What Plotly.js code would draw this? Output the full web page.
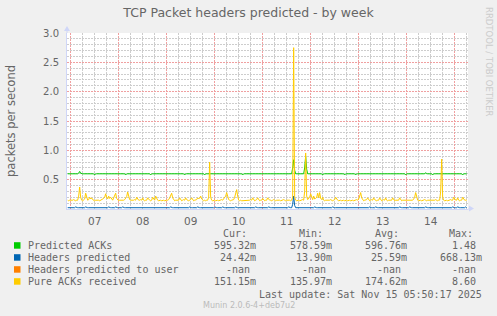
<!DOCTYPE html>
<html>
<head>
<meta charset="utf-8">
<script src="https://cdn.plot.ly/plotly-3.0.1.min.js"></script>
<style>
html,body{margin:0;padding:0;background:#F0F0F0;}
#chart{width:497px;height:316px;}
</style>
</head>
<body>
<div id="chart"></div>
<script>
// ---- Data (30-minute samples starting 2025-11-06 22:30) ----
const sampleStart = "2025-11-06T22:30:00Z";
const sampleStepMinutes = 30;

const predictedAcks = [
0.6,0.6,0.6,0.59,0.6,0.6,0.6,0.6,0.6,0.6,0.6,0.61,0.64,0.61,0.6,0.6,0.6,0.6,0.61,0.6,
0.6,0.6,0.6,0.6,0.6,0.6,0.6,0.58,0.6,0.6,0.6,0.6,0.6,0.6,0.6,0.6,0.6,0.6,0.6,0.6,
0.6,0.6,0.6,0.6,0.6,0.6,0.6,0.6,0.61,0.6,0.6,0.6,0.6,0.6,0.6,0.6,0.6,0.6,0.58,0.6,
0.6,0.6,0.6,0.6,0.6,0.6,0.6,0.6,0.6,0.6,0.6,0.6,0.6,0.6,0.6,0.6,0.6,0.6,0.6,0.6,
0.6,0.6,0.6,0.58,0.6,0.6,0.6,0.6,0.6,0.6,0.6,0.6,0.6,0.6,0.6,0.6,0.6,0.6,0.6,0.6,
0.6,0.6,0.6,0.61,0.6,0.6,0.6,0.6,0.6,0.6,0.6,0.6,0.6,0.6,0.6,0.6,0.6,0.58,0.6,0.6,
0.6,0.6,0.61,0.6,0.6,0.6,0.6,0.6,0.6,0.6,0.6,0.6,0.6,0.6,0.6,0.6,0.6,0.58,0.6,0.6,
0.6,0.6,0.6,0.6,0.6,0.6,0.6,0.6,0.61,0.6,0.6,0.6,0.6,0.6,0.6,0.6,0.6,0.6,0.6,0.6,
0.6,0.6,0.6,0.6,0.6,0.6,0.6,0.6,0.6,0.61,0.6,0.6,0.6,0.6,0.6,0.58,0.6,0.6,0.6,0.6,
0.6,0.6,0.6,0.6,0.6,0.6,0.6,0.6,0.6,0.6,0.61,0.6,0.6,0.6,0.6,0.6,0.6,0.6,0.6,0.6,
0.6,0.6,0.6,0.6,0.6,0.61,0.6,0.6,0.6,0.6,0.61,0.6,0.6,0.6,0.6,0.61,0.6,0.6,0.6,0.6,
0.61,0.6,0.6,0.6,0.6,0.7,0.84,0.66,0.6,0.6,0.6,0.6,0.6,0.6,0.6,0.6,0.6,0.7,0.9,0.68,
0.6,0.6,0.6,0.6,0.6,0.6,0.6,0.6,0.6,0.6,0.6,0.6,0.6,0.6,0.6,0.58,0.6,0.6,0.6,0.6,
0.6,0.6,0.6,0.6,0.6,0.6,0.6,0.6,0.6,0.6,0.6,0.6,0.6,0.6,0.6,0.6,0.6,0.58,0.6,0.6,
0.6,0.6,0.6,0.6,0.6,0.6,0.6,0.6,0.58,0.6,0.6,0.6,0.6,0.6,0.6,0.6,0.6,0.6,0.6,0.6,
0.6,0.6,0.6,0.6,0.6,0.6,0.6,0.6,0.6,0.6,0.6,0.6,0.6,0.6,0.6,0.6,0.6,0.6,0.6,0.6,
0.6,0.6,0.6,0.6,0.6,0.61,0.6,0.6,0.6,0.6,0.6,0.6,0.6,0.6,0.6,0.6,0.6,0.6,0.58,0.6,
0.6,0.6,0.6,0.6,0.6,0.6,0.6,0.6,0.6,0.6,0.6,0.6,0.6,0.6,0.6,0.6,0.6,0.6,0.62,0.6,
0.6,0.6,0.6,0.6,0.6,0.58,0.6,0.6,0.6,0.6,0.6,0.6,0.6,0.6,0.6,0.6,0.6,0.6,0.6,0.6,
0.6,0.6,0.6,0.6,0.6,0.6,0.6,0.6,0.6,0.6,0.6,0.6,0.61,0.6,0.6,0.58,0.6,0.6,0.6,0.6
];

const headersPredicted = [
0.022,0.022,0.022,0.022,0.022,0.022,0.022,0.022,0.035,0.022,0.022,0.022,0.022,0.022,0.022,0.022,0.022,0.022,0.035,0.022,
0.022,0.022,0.022,0.022,0.022,0.022,0.022,0.022,0.022,0.022,0.022,0.022,0.022,0.022,0.022,0.022,0.022,0.022,0.022,0.022,
0.022,0.035,0.022,0.022,0.022,0.022,0.022,0.022,0.035,0.022,0.022,0.022,0.022,0.022,0.022,0.035,0.022,0.022,0.022,0.022,
0.022,0.022,0.022,0.022,0.022,0.022,0.022,0.022,0.022,0.022,0.022,0.022,0.022,0.022,0.022,0.022,0.022,0.022,0.022,0.022,
0.022,0.022,0.022,0.022,0.022,0.022,0.022,0.022,0.022,0.022,0.022,0.022,0.022,0.022,0.022,0.022,0.022,0.022,0.022,0.022,
0.022,0.022,0.022,0.035,0.022,0.022,0.022,0.022,0.022,0.022,0.022,0.022,0.022,0.022,0.022,0.022,0.022,0.022,0.022,0.022,
0.022,0.022,0.035,0.022,0.022,0.022,0.022,0.022,0.022,0.022,0.035,0.022,0.022,0.022,0.022,0.022,0.022,0.022,0.022,0.022,
0.022,0.022,0.022,0.022,0.022,0.022,0.022,0.035,0.022,0.022,0.022,0.022,0.022,0.022,0.022,0.035,0.022,0.022,0.022,0.022,
0.022,0.022,0.022,0.022,0.022,0.022,0.022,0.022,0.035,0.022,0.022,0.022,0.022,0.022,0.022,0.022,0.022,0.022,0.022,0.022,
0.022,0.022,0.022,0.022,0.022,0.022,0.022,0.022,0.035,0.022,0.022,0.022,0.022,0.022,0.022,0.022,0.022,0.022,0.022,0.022,
0.022,0.035,0.022,0.022,0.022,0.022,0.022,0.022,0.022,0.022,0.022,0.022,0.022,0.022,0.022,0.022,0.022,0.022,0.022,0.022,
0.022,0.035,0.022,0.022,0.022,0.08,0.22,0.06,0.022,0.022,0.022,0.022,0.022,0.022,0.022,0.022,0.022,0.022,0.022,0.022,
0.022,0.022,0.022,0.022,0.022,0.022,0.022,0.035,0.022,0.022,0.022,0.022,0.022,0.022,0.022,0.022,0.022,0.022,0.022,0.022,
0.022,0.022,0.022,0.022,0.022,0.035,0.022,0.022,0.022,0.022,0.022,0.022,0.022,0.022,0.022,0.022,0.022,0.022,0.022,0.022,
0.022,0.022,0.022,0.022,0.022,0.022,0.022,0.022,0.022,0.022,0.022,0.022,0.022,0.022,0.022,0.022,0.022,0.022,0.022,0.022,
0.022,0.022,0.035,0.022,0.022,0.022,0.022,0.022,0.035,0.022,0.022,0.022,0.022,0.022,0.022,0.022,0.022,0.022,0.022,0.022,
0.022,0.022,0.022,0.022,0.022,0.022,0.022,0.022,0.022,0.022,0.022,0.022,0.035,0.022,0.022,0.022,0.022,0.022,0.022,0.022,
0.022,0.022,0.035,0.022,0.022,0.022,0.022,0.022,0.022,0.022,0.022,0.022,0.022,0.022,0.022,0.022,0.022,0.022,0.035,0.022,
0.022,0.022,0.022,0.022,0.022,0.022,0.022,0.022,0.022,0.022,0.022,0.022,0.022,0.022,0.022,0.022,0.022,0.022,0.022,0.022,
0.022,0.022,0.022,0.022,0.022,0.035,0.022,0.022,0.022,0.022,0.035,0.022,0.022,0.022,0.022,0.022,0.022,0.022,0.035,0.022
];

const pureAcks = [
0.15,0.14,0.15,0.15,0.14,0.15,0.16,0.15,0.14,0.15,0.15,0.22,0.375,0.2,0.15,0.14,0.15,0.17,0.27,0.18,
0.15,0.16,0.2,0.17,0.19,0.16,0.15,0.14,0.15,0.15,0.16,0.15,0.14,0.15,0.15,0.16,0.18,0.2,0.26,0.19,
0.17,0.22,0.18,0.2,0.16,0.15,0.19,0.22,0.27,0.18,0.15,0.14,0.15,0.15,0.14,0.15,0.15,0.16,0.18,0.21,
0.29,0.2,0.16,0.15,0.15,0.14,0.15,0.16,0.15,0.2,0.16,0.15,0.15,0.16,0.15,0.19,0.15,0.14,0.15,0.15,
0.19,0.16,0.15,0.14,0.15,0.2,0.16,0.15,0.22,0.17,0.15,0.14,0.15,0.15,0.14,0.15,0.15,0.14,0.15,0.15,
0.15,0.16,0.19,0.22,0.27,0.19,0.15,0.14,0.15,0.15,0.16,0.15,0.19,0.15,0.14,0.15,0.16,0.15,0.19,0.16,
0.15,0.14,0.15,0.16,0.19,0.15,0.14,0.15,0.15,0.16,0.19,0.17,0.19,0.22,0.17,0.15,0.14,0.15,0.14,0.15,
0.15,0.2,0.80,0.2,0.15,0.14,0.15,0.15,0.14,0.15,0.15,0.14,0.15,0.15,0.16,0.15,0.17,0.2,0.22,0.28,
0.19,0.16,0.15,0.14,0.15,0.15,0.16,0.2,0.25,0.33,0.22,0.15,0.14,0.15,0.14,0.14,0.15,0.14,0.15,0.15,
0.14,0.15,0.15,0.16,0.15,0.19,0.15,0.14,0.15,0.16,0.19,0.15,0.14,0.15,0.15,0.18,0.15,0.14,0.15,0.15,
0.19,0.16,0.15,0.15,0.14,0.15,0.16,0.15,0.14,0.15,0.15,0.16,0.15,0.14,0.15,0.15,0.16,0.15,0.14,0.15,
0.15,0.16,0.15,0.14,0.15,0.2,2.75,0.2,0.15,0.14,0.15,0.15,0.14,0.15,0.15,0.16,0.15,0.3,0.955,0.22,
0.16,0.18,0.2,0.26,0.18,0.16,0.22,0.17,0.18,0.2,0.27,0.19,0.28,0.18,0.16,0.2,0.15,0.14,0.15,0.15,
0.14,0.15,0.15,0.16,0.15,0.14,0.15,0.16,0.2,0.16,0.15,0.14,0.15,0.15,0.14,0.15,0.15,0.14,0.15,0.15,
0.14,0.15,0.15,0.14,0.15,0.15,0.14,0.15,0.15,0.16,0.15,0.17,0.22,0.28,0.19,0.15,0.14,0.15,0.15,0.16,
0.19,0.15,0.14,0.15,0.16,0.15,0.19,0.16,0.15,0.14,0.15,0.15,0.19,0.15,0.14,0.15,0.16,0.15,0.19,0.15,
0.14,0.15,0.15,0.16,0.15,0.19,0.15,0.14,0.15,0.15,0.16,0.15,0.19,0.15,0.14,0.15,0.15,0.14,0.15,0.15,
0.14,0.15,0.15,0.14,0.15,0.15,0.17,0.2,0.28,0.18,0.15,0.14,0.15,0.15,0.14,0.15,0.15,0.16,0.15,0.14,
0.15,0.15,0.14,0.15,0.15,0.14,0.15,0.15,0.16,0.15,0.14,0.15,0.15,0.3,0.85,0.2,0.15,0.14,0.15,0.15,
0.14,0.15,0.15,0.16,0.15,0.15,0.2,0.16,0.15,0.15,0.19,0.15,0.14,0.15,0.15,0.2,0.16,0.15,0.15,0.15
];

const seriesNames  = ["Predicted ACKs", "Headers predicted", "Headers predicted to user", "Pure ACKs received"];
const seriesColors = ["#00CC00", "#0066B3", "#FF8000", "#FFCC00"];
const curVals = ["595.32m", "24.42m", "-nan", "151.15m"];
const minVals = ["578.59m", "13.90m", "-nan", "135.97m"];
const avgVals = ["596.76m", "25.59m", "-nan", "174.62m"];
const maxVals = ["1.48", "668.13m", "-nan", "8.60"];
const columnHeaders = ["Cur:", "Min:", "Avg:", "Max:"];
const yTickVals = [0, 0.5, 1.0, 1.5, 2.0, 2.5, 3.0];
const yTickText = ["", "0.5", "1.0", "1.5", "2.0", "2.5", "3.0"];
const lastUpdate = "Last update:  Sat Nov 15 05:50:17 2025";
const versionText = "Munin 2.0.6-4+deb7u2";
const chartTitle = "TCP Packet headers predicted - by week";
const yTitle = "packets per second";

// ---- Build ----
const t0 = Date.parse(sampleStart);
const times = pureAcks.map((_, i) => t0 + i * sampleStepMinutes * 60000);

const W = 497, H = 316;
const M = {l: 67, r: 29, t: 33, b: 107};
const PW = W - M.l - M.r, PH = H - M.t - M.b;
const px = x => (x - M.l) / PW;
const py = y => (H - M.b - y) / PH;

const FONT = "#666666";
const mono = "DejaVu Sans Mono";
const sans = "DejaVu Sans";

const series = [predictedAcks, headersPredicted, null, pureAcks];
const traces = [];
series.forEach((s, k) => {
  if (!s) return;
  traces.push({
    x: times, y: s, type: "scatter", mode: "lines",
    line: {color: seriesColors[k], width: 1, shape: "linear"},
    hoverinfo: "skip", showlegend: false
  });
});

const annotations = [];
const shapes = [];
const rowY = [245.7, 257.7, 269.7, 281.7];
const charW = 6.02;
const colEnds = [257.8, 333.8, 408.8, 483.8];
const colHeadX = [221, 297.3, 372.5, 447];

columnHeaders.forEach((h, c) => {
  annotations.push({xref: "paper", yref: "paper", x: px(colHeadX[c]), y: py(233.7),
    xanchor: "left", yanchor: "middle", text: h, showarrow: false,
    font: {family: mono, size: 10, color: FONT}});
});
const cols = [curVals, minVals, avgVals, maxVals];
seriesNames.forEach((n, r) => {
  shapes.push({type: "rect", xref: "paper", yref: "paper",
    x0: px(14), x1: px(20.5), y0: py(rowY[r] - 3.5), y1: py(rowY[r] + 3),
    fillcolor: seriesColors[r], line: {width: 0}});
  annotations.push({xref: "paper", yref: "paper", x: px(26), y: py(rowY[r]),
    xanchor: "left", yanchor: "middle", text: n, showarrow: false,
    font: {family: mono, size: 10, color: FONT}});
  cols.forEach((col, c) => {
    const v = col[r];
    const hasSuffix = /[a-zA-Z]$/.test(v) && v !== "-nan";
    const xr = colEnds[c] - (hasSuffix ? 0 : charW);
    annotations.push({xref: "paper", yref: "paper", x: px(xr), y: py(rowY[r]),
      xanchor: "right", yanchor: "middle", text: v, showarrow: false,
      font: {family: mono, size: 10, color: FONT}});
  });
});
annotations.push({xref: "paper", yref: "paper", x: px(483.8), y: py(294),
  xanchor: "right", yanchor: "middle", text: lastUpdate.replace(/  /g, " \u00a0").replace(" \u00a0", " "), showarrow: false,
  font: {family: mono, size: 10, color: FONT}});
annotations.push({xref: "paper", yref: "paper", x: px(249.2), y: py(305.5),
  xanchor: "center", yanchor: "middle", text: versionText, showarrow: false,
  font: {family: sans, size: 8, color: "#BBBBBB"}});
annotations.push({xref: "paper", yref: "paper", x: px(489), y: py(62),
  xanchor: "center", yanchor: "middle", text: "RRDTOOL / TOBI OETIKER", textangle: 90, showarrow: false,
  font: {family: sans, size: 8.5, color: "#CCCCCC"}});

// axis arrows
const AX = "#CFD6F8";
shapes.push({type: "path", xref: "paper", yref: "paper",
  path: `M ${px(64)} ${py(31)} L ${px(67)} ${py(26)} L ${px(70)} ${py(31)} Z`,
  fillcolor: AX, line: {width: 0}});
shapes.push({type: "path", xref: "paper", yref: "paper",
  path: `M ${px(469)} ${py(205.5)} L ${px(474)} ${py(208.5)} L ${px(469)} ${py(211.5)} Z`,
  fillcolor: AX, line: {width: 0}});
shapes.push({type: "line", xref: "paper", yref: "paper",
  x0: px(67), x1: px(67), y0: 1, y1: py(30), line: {color: AX, width: 1}});
shapes.push({type: "line", xref: "paper", yref: "paper",
  x0: 1, x1: px(470), y0: 0, y1: 0, line: {color: AX, width: 1}});

const layout = {
  width: W, height: H,
  margin: M,
  paper_bgcolor: "#F0F0F0",
  plot_bgcolor: "#FFFFFF",
  showlegend: false,
  title: {text: chartTitle, x: 0.5, xref: "container", xanchor: "center",
    y: 1 - 13 / H, yref: "container", yanchor: "middle",
    font: {family: sans, size: 12.5, color: FONT}},
  xaxis: {
    type: "date",
    range: ["2025-11-06 22:10", "2025-11-15 06:40"],
    tick0: "2025-11-07", dtick: 86400000, tickformat: "%d",
    ticklabelmode: "period",
    showgrid: true, gridcolor: "#F0A0A0", griddash: "2px,1px", gridwidth: 1,
    minor: {dtick: 21600000, tick0: "2025-11-07", showgrid: true, gridcolor: "#CDCDCD", griddash: "2px,1px", gridwidth: 1},
    showline: true, linecolor: AX, linewidth: 1,
    zeroline: false, ticks: "", ticklabelstandoff: 2,
    tickfont: {family: sans, size: 10.5, color: FONT},
    fixedrange: true
  },
  yaxis: {
    range: [0, 3.0],
    tickmode: "array", tickvals: yTickVals, ticktext: yTickText,
    showgrid: true, gridcolor: "#F0A0A0", griddash: "2px,1px", gridwidth: 1,
    minor: {tickmode: "linear", tick0: 0, dtick: 0.1, showgrid: true, gridcolor: "#CDCDCD", griddash: "2px,1px", gridwidth: 1},
    showline: true, linecolor: AX, linewidth: 1,
    zeroline: false, ticks: "", ticklabelstandoff: 5,
    tickfont: {family: sans, size: 10, color: FONT},
    title: {text: yTitle, font: {family: sans, size: 11.5, color: FONT}, standoff: 25},
    fixedrange: true
  },
  annotations: annotations,
  shapes: shapes
};

Plotly.newPlot("chart", traces, layout, {staticPlot: true, displayModeBar: false});
</script>
</body>
</html>
